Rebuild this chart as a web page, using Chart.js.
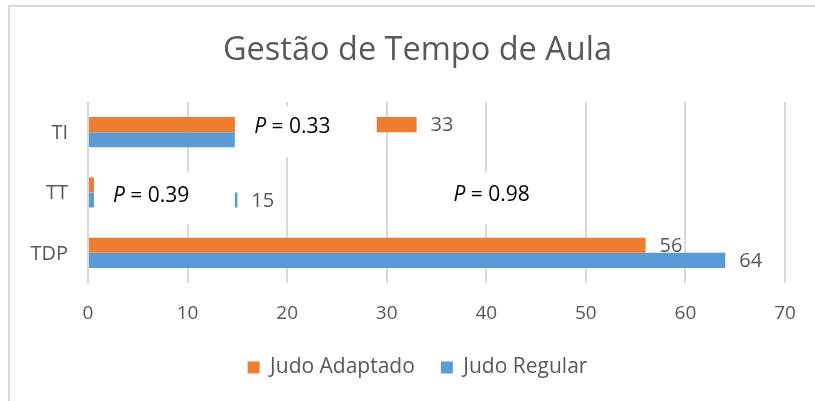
<!DOCTYPE html>
<html>
<head>
<meta charset="utf-8">
<script src="https://cdn.jsdelivr.net/npm/chart.js@4.4.0/dist/chart.umd.min.js"></script>
<style>
  body { margin: 0; background: #fff; }
  #frame { position: absolute; left: 8px; top: 5px; width: 830px; height: 420px; border: 2px solid #d9d9d9; }
  #wrap { position: absolute; left: 0; top: 0; width: 815px; height: 401px; }
</style>
</head>
<body>
<div id="frame"></div>
<div id="wrap"><canvas id="chart" width="815" height="401"></canvas></div>
<script>
var categories = ['TI', 'TT', 'TDP'];
var judoAdaptado = [33, 1, 56];
var judoRegular = [25, 15, 64];
var xTicks = [0, 10, 20, 30, 40, 50, 60, 70];
var pValues = ['0.33', '0.39', '0.98'];

// white text boxes laid over the bars (as in the original figure)
var pBoxes = [
    { cat: 0, from: 14.75, to: 29.0, top: -26, bottom: 25, textAt: 16.7, textDy: -5 },
    { cat: 1, from: 0.6, to: 14.75, top: -21, bottom: 32, textAt: 2.5, textDy: 4 },
    { cat: 1, from: 35.3, to: 49.6, top: -21, bottom: 32, textAt: 36.7, textDy: 3 }
];

var grey = '#595959';
var font = "'Open Sans', 'Noto Sans', sans-serif";

var overlayPlugin = {
    id: 'overlay',
    afterDatasetsDraw: function(chart) {
        var ctx = chart.ctx;
        var xs = chart.scales.x;
        var ys = chart.scales.y;

        // value labels at bar ends
        ctx.save();
        ctx.font = '20px ' + font;
        ctx.fillStyle = grey;
        ctx.textBaseline = 'middle';
        ctx.textAlign = 'left';
        chart.data.datasets.forEach(function(ds, i) {
            var meta = chart.getDatasetMeta(i);
            meta.data.forEach(function(bar, j) {
                ctx.fillText(ds.data[j], bar.x + 14, bar.y + 1);
            });
        });

        // category labels (drawn here so they are not clipped to the narrow axis box)
        ctx.textAlign = 'right';
        ys.ticks.forEach(function(t, i) {
            ctx.fillText(chart.data.labels[i], chart.chartArea.left - 20, ys.getPixelForTick(i) + 1);
        });
        ctx.restore();

        // p-value boxes
        ctx.save();
        pBoxes.forEach(function(b, i) {
            var cy = ys.getPixelForValue(b.cat);
            var x1 = xs.getPixelForValue(b.from);
            var x2 = xs.getPixelForValue(b.to);
            ctx.fillStyle = '#ffffff';
            ctx.fillRect(x1, cy + b.top, x2 - x1, b.bottom - b.top);

            var tx = xs.getPixelForValue(b.textAt);
            var ty = cy + b.textDy;
            ctx.fillStyle = '#000000';
            ctx.textBaseline = 'middle';
            ctx.textAlign = 'left';
            ctx.font = 'italic 21px ' + font;
            ctx.fillText('P', tx, ty);
            var w = ctx.measureText('P').width;
            ctx.font = '21px ' + font;
            ctx.fillText(' = ' + pValues[i], tx + w, ty);
        });
        ctx.restore();
    }
};

var ctx = document.getElementById('chart');
new Chart(ctx, {
    type: 'bar',
    data: {
        labels: categories,
        datasets: [{
            label: 'Judo Adaptado',
            data: judoAdaptado,
            backgroundColor: '#ED7D31',
            borderWidth: 0
        }, {
            label: 'Judo Regular',
            data: judoRegular,
            backgroundColor: '#5B9BD5',
            borderWidth: 0
        }]
    },
    options: {
        indexAxis: 'y',
        responsive: false,
        animation: false,
        layout: {
            padding: { left: 50, right: 30, top: 0, bottom: 13 }
        },
        scales: {
            x: {
                min: 0,
                max: 70,
                afterBuildTicks: function(scale) {
                    scale.ticks = xTicks.map(function(v) { return { value: v }; });
                },
                afterFit: function(scale) { scale.height = 48; },
                grid: { color: '#d9d9d9', lineWidth: 2, drawTicks: false },
                border: { display: false },
                ticks: { color: grey, font: { family: font, size: 19 }, padding: 19 }
            },
            y: {
                afterFit: function(scale) { scale.width = 38; },
                grid: { display: false },
                border: { display: false },
                ticks: { display: false }
            }
        },
        datasets: {
            bar: { categoryPercentage: 0.5, barPercentage: 1 }
        },
        plugins: {
            title: {
                display: true,
                text: 'Gestão de Tempo de Aula',
                color: grey,
                font: { family: font, size: 32.5, weight: 'normal' },
                padding: { top: 31, bottom: 32 }
            },
            legend: {
                position: 'bottom',
                labels: {
                    color: grey,
                    font: { family: font, size: 21 },
                    boxWidth: 12,
                    boxHeight: 12,
                    padding: 26
                }
            },
            tooltip: { enabled: false }
        }
    },
    plugins: [overlayPlugin]
});
</script>
</body>
</html>
